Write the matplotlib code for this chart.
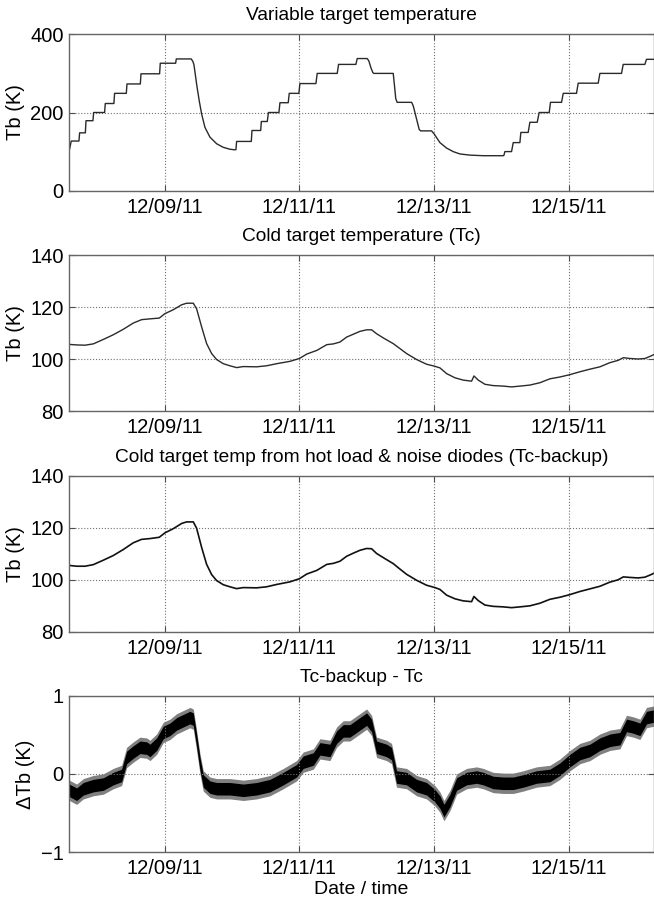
import numpy as np
import matplotlib
matplotlib.use("Agg")
import matplotlib.pyplot as plt
import matplotlib.dates as mdates
from datetime import datetime

plt.rcParams['font.family'] = ['Liberation Sans', 'DejaVu Sans']
plt.rcParams['font.size'] = 14

# time axis: day of December 2011 (fractional)
# variable target temperature (stepped)
t_var = [7.590, 7.614, 7.728, 7.738, 7.823, 7.833, 7.936, 7.946, 8.109, 8.119,
         8.247, 8.257, 8.431, 8.441, 8.639, 8.649, 8.925, 8.935, 9.163, 9.173,
         9.395, 9.420, 9.435, 9.475, 9.513, 9.549, 9.598, 9.672, 9.772, 9.869,
         9.969, 10.043, 10.058, 10.068, 10.286, 10.296, 10.425, 10.435, 10.523, 10.540,
         10.696, 10.711, 10.834, 10.849, 10.992, 11.007, 11.245, 11.264, 11.561, 11.581,
         11.838, 11.858, 12.006, 12.030, 12.060, 12.090, 12.105, 12.392, 12.410, 12.430,
         12.451, 12.665, 12.689, 12.739, 12.777, 12.798, 12.961, 13.000, 13.085, 13.184,
         13.282, 13.381, 13.530, 13.728, 14.024, 14.034, 14.049, 14.148, 14.173, 14.272,
         14.286, 14.395, 14.420, 14.529, 14.558, 14.707, 14.726, 14.890, 14.915, 15.112,
         15.137, 15.434, 15.459, 15.780, 15.805, 16.126, 16.151, 16.260]
tb_var = [107, 127, 127, 148, 148, 179, 179, 200, 200, 223,
          223, 249, 249, 273, 273, 299, 299, 326, 326, 337,
          337, 330, 322, 272, 230, 196, 162, 137, 120, 111,
          106, 104.6, 105, 126, 126, 154, 154, 177, 177, 200,
          200, 225, 225, 249, 249, 274, 274, 300, 300, 323,
          323, 338, 338, 332, 315, 302, 300, 300, 270, 235,
          226, 226, 217, 183, 157, 153, 153, 145, 123, 109,
          100, 94, 91, 89.5, 89.5, 90, 100, 100, 123, 123,
          149, 149, 175, 175, 200, 200, 226, 226, 249, 249,
          275, 275, 300, 300, 323, 323, 336, 336]

# cold target temperature (Tc) and backup estimate
t_cold = [7.585, 7.694, 7.818, 7.941, 8.089, 8.238, 8.386, 8.535, 8.658, 8.782,
          8.920, 9.004, 9.128, 9.252, 9.326, 9.425, 9.474, 9.549, 9.623, 9.697,
          9.771, 9.870, 9.969, 10.068, 10.167, 10.365, 10.513, 10.662, 10.859, 11.000,
          11.109, 11.258, 11.406, 11.505, 11.601, 11.700, 11.799, 11.898, 11.997, 12.071,
          12.145, 12.244, 12.392, 12.492, 12.590, 12.739, 12.887, 13.011, 13.085, 13.184,
          13.308, 13.431, 13.555, 13.590, 13.654, 13.753, 13.876, 14.025, 14.149, 14.272,
          14.420, 14.569, 14.717, 14.866, 15.014, 15.162, 15.311, 15.459, 15.608, 15.731,
          15.806, 15.905, 16.029, 16.128, 16.202, 16.261]
tc = [105.7, 105.5, 105.4, 105.9, 107.6, 109.4, 111.5, 113.9, 115.2, 115.5,
      115.8, 117.5, 119.0, 120.9, 121.5, 121.5, 119.4, 112.4, 106.0, 102.2,
      99.9, 98.3, 97.5, 96.8, 97.2, 97.1, 97.5, 98.3, 99.2, 100.3,
      102.0, 103.4, 105.6, 105.9, 106.6, 108.5, 109.6, 110.7, 111.3, 111.3,
      109.8, 108.2, 106.0, 104.1, 102.2, 99.9, 98.1, 97.3, 96.7, 94.5,
      92.9, 92.0, 91.6, 93.6, 92.0, 90.4, 89.9, 89.7, 89.4, 89.7,
      90.1, 91.0, 92.5, 93.2, 94.1, 95.2, 96.2, 97.1, 98.7, 99.6,
      100.6, 100.3, 100.1, 100.3, 101.1, 101.8]
tc_backup = [105.5, 105.2, 105.2, 105.8, 107.5, 109.3, 111.6, 114.2, 115.5, 115.8,
             116.3, 118.0, 119.6, 121.6, 122.2, 122.2, 119.8, 112.4, 105.9, 102.0,
             99.7, 98.1, 97.3, 96.6, 97.0, 96.9, 97.3, 98.2, 99.2, 100.4,
             102.2, 103.6, 105.9, 106.3, 107.1, 109.0, 110.2, 111.3, 112.0, 111.9,
             110.1, 108.5, 106.2, 104.1, 102.1, 99.8, 97.9, 97.0, 96.3, 94.1,
             92.7, 91.9, 91.6, 93.6, 92.0, 90.3, 89.8, 89.6, 89.3, 89.6,
             90.0, 91.0, 92.5, 93.3, 94.3, 95.5, 96.5, 97.5, 99.1, 100.0,
             101.1, 100.9, 100.7, 101.0, 101.8, 102.5]

# Tc-backup - Tc (centre of the noisy trace)
t_diff = [7.585, 7.694, 7.793, 7.941, 8.089, 8.238, 8.361, 8.436, 8.535, 8.634,
          8.733, 8.782, 8.881, 8.980, 9.079, 9.178, 9.276, 9.375, 9.425, 9.474,
          9.524, 9.573, 9.672, 9.771, 9.969, 10.167, 10.365, 10.563, 10.761, 10.958,
          11.057, 11.206, 11.305, 11.453, 11.552, 11.651, 11.749, 11.898, 11.997, 12.071,
          12.145, 12.293, 12.367, 12.441, 12.590, 12.739, 12.887, 13.011, 13.085, 13.145,
          13.234, 13.333, 13.481, 13.629, 13.728, 13.876, 14.025, 14.173, 14.321, 14.519,
          14.717, 14.866, 15.014, 15.162, 15.311, 15.459, 15.608, 15.756, 15.855, 15.954,
          16.053, 16.152, 16.261]
dtb = [-0.21, -0.26, -0.19, -0.15, -0.13, -0.06, -0.02, 0.21, 0.28, 0.34,
       0.33, 0.30, 0.38, 0.53, 0.57, 0.64, 0.68, 0.72, 0.70, 0.43,
       0.13, -0.09, -0.17, -0.19, -0.19, -0.21, -0.19, -0.15, -0.06, 0.04,
       0.15, 0.19, 0.32, 0.30, 0.47, 0.55, 0.55, 0.64, 0.70, 0.62,
       0.34, 0.30, 0.26, -0.04, -0.06, -0.15, -0.19, -0.28, -0.36, -0.47,
       -0.34, -0.13, -0.06, -0.04, -0.06, -0.11, -0.12, -0.12, -0.09, -0.04,
       -0.02, 0.06, 0.17, 0.26, 0.30, 0.38, 0.43, 0.45, 0.62, 0.60,
       0.57, 0.72, 0.74]
dtb_core = 0.08     # half width of the dense noise band (K)
dtb_spread = 0.13   # half width incl. spikes (K)

titles = ["Variable target temperature",
          "Cold target temperature (Tc)",
          "Cold target temp from hot load & noise diodes (Tc-backup)",
          "Tc-backup - Tc"]
ylabels = ["Tb (K)", "Tb (K)", "Tb (K)", "\u0394Tb (K)"]
ylims = [(0, 400), (80, 140), (80, 140), (-1, 1)]
yticks = [[0, 200, 400], [80, 100, 120, 140], [80, 100, 120, 140], [-1, 0, 1]]
xtick_days = [9, 11, 13, 15]
x_range = (7.585, 16.262)

base = mdates.date2num(datetime(2011, 12, 1)) - 1


def to_x(days):
    return base + np.asarray(days, dtype=float)


fig = plt.figure(figsize=(6.54, 8.99), dpi=100)
left = 69.3 / 654
width = 1 - left
tops = [34.3, 255.0, 475.5, 695.7]
h = 156.4 / 899
axes = []
for top in tops:
    axes.append(fig.add_axes([left, 1 - top / 899 - h, width, h]))

axes[0].plot(to_x(t_var), tb_var, color='#2a2a2a', lw=1.0)
axes[1].plot(to_x(t_cold), tc, color='#2a2a2a', lw=1.0)
axes[2].plot(to_x(t_cold), tc_backup, color='#111111', lw=1.2)
xd = to_x(t_diff)
c = np.asarray(dtb)
axes[3].fill_between(xd, c - dtb_spread, c + dtb_spread, color='0.5', lw=0)
axes[3].fill_between(xd, c - dtb_core, c + dtb_core, color='black', lw=0)

for i, ax in enumerate(axes):
    ax.set_xlim(to_x(x_range[0]), to_x(x_range[1]))
    ax.set_ylim(*ylims[i])
    ax.set_yticks(yticks[i])
    ax.set_xticks(to_x(xtick_days))
    ax.xaxis.set_major_formatter(mdates.DateFormatter('%m/%d/%y'))
    ax.grid(True, linestyle=':', color='0.45', lw=0.8)
    ax.tick_params(direction='in', length=4, top=True, right=True,
                   color='0.3', pad=5, labelsize=14.5)
    ax.tick_params(axis='y', pad=4)
    for s in ax.spines.values():
        s.set_color('0.4')
        s.set_linewidth(1.0)
    ax.set_title(titles[i], fontsize=13.8, pad=10)
    ax.set_ylabel(ylabels[i], fontsize=14.5, labelpad=4)

axes[3].set_xlabel("Date / time", fontsize=14, labelpad=2)

fig.savefig("out.png", dpi=100)
